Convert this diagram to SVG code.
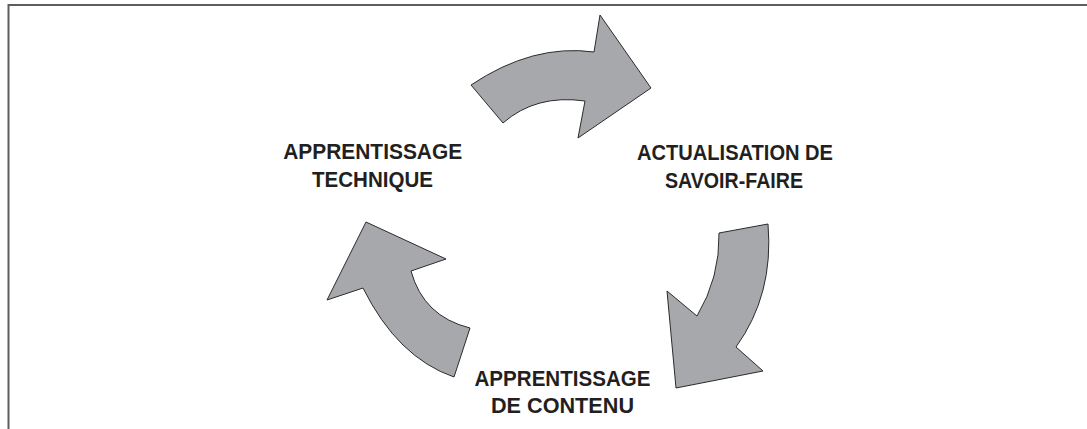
<svg xmlns="http://www.w3.org/2000/svg" width="1087" height="429" viewBox="0 0 1087 429">
  <style>
    .frame { fill: none; stroke: #5e5e5e; stroke-width: 2; }
    .arrow { fill: #a7a8ab; stroke: #2b2b2b; stroke-width: 1; stroke-linejoin: miter; }
    .label { font-family: "Liberation Sans", Arial, sans-serif; font-weight: bold; font-size: 22px; fill: #231f20; text-anchor: middle; }
  </style>
  <rect width="1087" height="429" fill="#ffffff"/>
  <path class="frame" d="M8.5,429 V5 H1087"/>

  <!-- curved arrows of the cycle -->
  <g id="connectors">
    <path id="arrow-top" class="arrow" d="M471,85 Q533,43.5 594,52 L600,15 L651,88 L578,138 L585,101 Q536,94 503,123 Z"/>
    <path id="arrow-right" class="arrow" d="M719,233 L768,224 Q774,294.5 736,347 L763,371 L676,388 L667,291 L697,316 Q720,277.5 719,233 Z"/>
    <path id="arrow-left" class="arrow" d="M366,222 L446,259 L411,271 Q423.5,316.5 470,328 L454,377 Q397.5,357.5 363,288 L327,300 Z"/>
  </g>

  <g id="node-technique">
    <text class="label" x="372.7" y="158.7" textLength="179" lengthAdjust="spacingAndGlyphs">APPRENTISSAGE</text>
    <text class="label" x="372.5" y="186.5" textLength="121" lengthAdjust="spacingAndGlyphs">TECHNIQUE</text>
  </g>

  <g id="node-savoir-faire">
    <text class="label" x="735" y="159.5" textLength="196" lengthAdjust="spacingAndGlyphs">ACTUALISATION DE</text>
    <text class="label" x="734" y="188" textLength="138" lengthAdjust="spacingAndGlyphs">SAVOIR-FAIRE</text>
  </g>

  <g id="node-contenu">
    <text class="label" x="562.5" y="386" textLength="176" lengthAdjust="spacingAndGlyphs">APPRENTISSAGE</text>
    <text class="label" x="562.5" y="413" textLength="143" lengthAdjust="spacingAndGlyphs">DE CONTENU</text>
  </g>
</svg>
